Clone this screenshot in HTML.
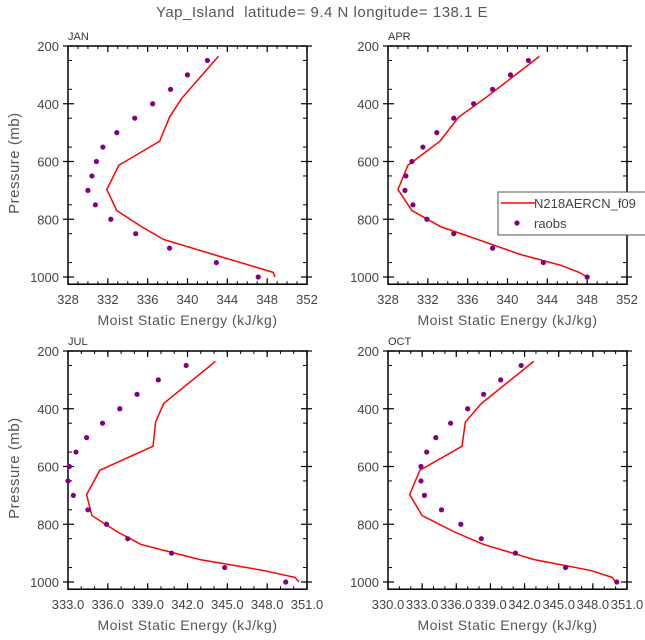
<!DOCTYPE html>
<html><head><meta charset="utf-8"><style>
html,body{margin:0;padding:0;background:#fff;}
svg{display:block;font-family:"Liberation Sans",sans-serif;}
</style></head><body>
<svg id="fig" width="645" height="640" viewBox="0 0 645 640" xmlns="http://www.w3.org/2000/svg">
<text x="322" y="17" text-anchor="middle" font-size="15" fill="#555" letter-spacing="0.5" xml:space="preserve" style="white-space:pre">Yap_Island  latitude= 9.4 N longitude= 138.1 E</text>
</svg>
<script>
const rawLevels=[250,300,350,400,450,500,550,600,650,700,750,800,850,900,950,1000];
const modelLevels=[236,382,446,530,613,697,770,826,870,922,960,984,1000];
const janObs=[342.0,340.0,338.3,336.5,334.7,332.9,331.5,330.85,330.4,330.0,330.75,332.3,334.8,338.2,342.9,347.1];
const janModel=[343.1,339.4,338.2,337.2,333.1,331.9,332.9,335.4,337.6,342.6,346.3,348.6,348.8];
const aprObs=[342.1,340.3,338.5,336.6,334.6,332.9,331.5,330.4,329.8,329.7,330.5,331.9,334.6,338.5,343.6,348.0];
const aprModel=[343.2,337.7,335.1,333.2,330.0,329.0,330.4,333.3,337.0,341.3,345.4,347.2,348.0];
const julObs=[341.9,339.8,338.2,336.9,335.6,334.4,333.6,333.1,333.0,333.4,334.5,335.9,337.5,340.8,344.8,349.4];
const julModel=[344.1,340.2,339.6,339.4,335.4,334.4,334.8,336.7,338.5,342.9,347.7,350.1,350.4];
const octObs=[341.7,339.9,338.4,337.0,335.5,334.2,333.4,332.9,332.9,333.2,334.7,336.4,338.2,341.2,345.6,350.1];
const octModel=[342.8,338.2,336.8,336.5,332.8,331.9,333.0,335.8,338.4,342.8,347.8,349.7,350.0];
const janTicks=[328,332,336,340,344,348,352];
const aprTicks=[328,332,336,340,344,348,352];
const julTicks=[333.0,336.0,339.0,342.0,345.0,348.0,351.0];
const octTicks=[330.0,333.0,336.0,339.0,342.0,345.0,348.0,351.0];
const yTicks=[200,400,600,800,1000];
const NS="http://www.w3.org/2000/svg";
const svg=document.getElementById('fig');
function mk(tag,attrs,parent){const e=document.createElementNS(NS,tag);for(const k in attrs)e.setAttribute(k,attrs[k]);(parent||svg).appendChild(e);return e;}
const panels=[
 {id:'jan',name:'JAN',x0:68,y0:46,obs:janObs,model:janModel,ticks:janTicks,minor:1,dec:0,ylab:true},
 {id:'apr',name:'APR',x0:388,y0:46,obs:aprObs,model:aprModel,ticks:aprTicks,minor:1,dec:0,ylab:false},
 {id:'jul',name:'JUL',x0:68,y0:351,obs:julObs,model:julModel,ticks:julTicks,minor:1,dec:1,ylab:true},
 {id:'oct',name:'OCT',x0:388,y0:351,obs:octObs,model:octModel,ticks:octTicks,minor:1,dec:1,ylab:false}
];
const W=239,PPM=231/800,PMIN=200,PMAX=1025;
panels.forEach(p=>{
 const g=mk('g',{});
 
 
 const xmin=p.ticks[0],xmax=p.ticks[p.ticks.length-1];
 const H=(PMAX-PMIN)*PPM;
 const sx=v=>p.x0+(v-xmin)/(xmax-xmin)*W;
 const sy=v=>p.y0+(v-PMIN)*PPM;
 for(let v=xmin;v<=xmax+1e-6;v+=p.minor){
  mk('line',{x1:sx(v),x2:sx(v),y1:p.y0+H,y2:p.y0+H-3,stroke:'#000','stroke-width':1},g);
  mk('line',{x1:sx(v),x2:sx(v),y1:p.y0,y2:p.y0+3,stroke:'#000','stroke-width':1},g);
 }
 p.ticks.forEach(v=>{
  mk('line',{x1:sx(v),x2:sx(v),y1:p.y0+H,y2:p.y0+H-6,stroke:'#000','stroke-width':1.2},g);
  mk('line',{x1:sx(v),x2:sx(v),y1:p.y0,y2:p.y0+6,stroke:'#000','stroke-width':1.2},g);
  const t=mk('text',{x:sx(v),y:p.y0+H+20,'text-anchor':'middle','font-size':13,fill:'#444'},g);
  t.textContent=v.toFixed(p.dec);
  
  
 });
 for(let v=250;v<=1000;v+=100){
  mk('line',{x1:p.x0,x2:p.x0+4,y1:sy(v),y2:sy(v),stroke:'#000','stroke-width':1},g);
  mk('line',{x1:p.x0+W,x2:p.x0+W-4,y1:sy(v),y2:sy(v),stroke:'#000','stroke-width':1},g);
 }
 yTicks.forEach(v=>{
  mk('line',{x1:p.x0-5,x2:p.x0+6,y1:sy(v),y2:sy(v),stroke:'#000','stroke-width':1.2},g);
  mk('line',{x1:p.x0+W-6,x2:p.x0+W+5,y1:sy(v),y2:sy(v),stroke:'#000','stroke-width':1.2},g);
  const t=mk('text',{x:p.x0-9,y:sy(v)+5,'text-anchor':'end','font-size':13,fill:'#444'},g);
  t.textContent=v;
  
  
 });
 const box=mk('rect',{x:p.x0,y:p.y0,width:W,height:H,fill:'none',stroke:'#000','stroke-width':1.5},g);
 
 
 const lbl=mk('text',{x:p.x0,y:p.y0-6,'font-size':11,fill:'#333'},g);
 lbl.textContent=p.name;
 
 
 const xt=mk('text',{x:p.x0+W/2,y:p.y0+H+41,'text-anchor':'middle','font-size':14,fill:'#555','letter-spacing':'0.5'},g);
 xt.textContent='Moist Static Energy (kJ/kg)';
 
 
 if(p.ylab){
  const yt=mk('text',{x:0,y:0,'text-anchor':'middle','font-size':15,fill:'#555','letter-spacing':'0.5',transform:`translate(19,${p.y0+H/2-2}) rotate(-90)`},g);
  yt.textContent='Pressure (mb)';
  
  
 }
 const pts=p.model.map((v,i)=>sx(v)+','+sy(modelLevels[i])).join(' ');
 const line=mk('polyline',{points:pts,fill:'none',stroke:'#f00','stroke-width':1.5},g);
 
 
 p.obs.forEach((v,i)=>{
  const c=mk('circle',{cx:sx(v),cy:sy(rawLevels[i]),r:2.6,fill:'#800080'},g);
  
  
 });
});
const lg=mk('g',{});


mk('rect',{x:498,y:192,width:160,height:43,fill:'#fff',stroke:'#555','stroke-width':1},lg);
mk('line',{x1:501,x2:535,y1:203,y2:203,stroke:'#f00','stroke-width':1.5},lg);
const l1=mk('text',{x:534,y:208,'font-size':13,fill:'#444'},lg);
l1.textContent='N218AERCN_f09';


mk('circle',{cx:517,cy:223,r:2.6,fill:'#800080'},lg);
const l2=mk('text',{x:534,y:228,'font-size':13,fill:'#444'},lg);
l2.textContent='raobs';


</script>
</body></html>
